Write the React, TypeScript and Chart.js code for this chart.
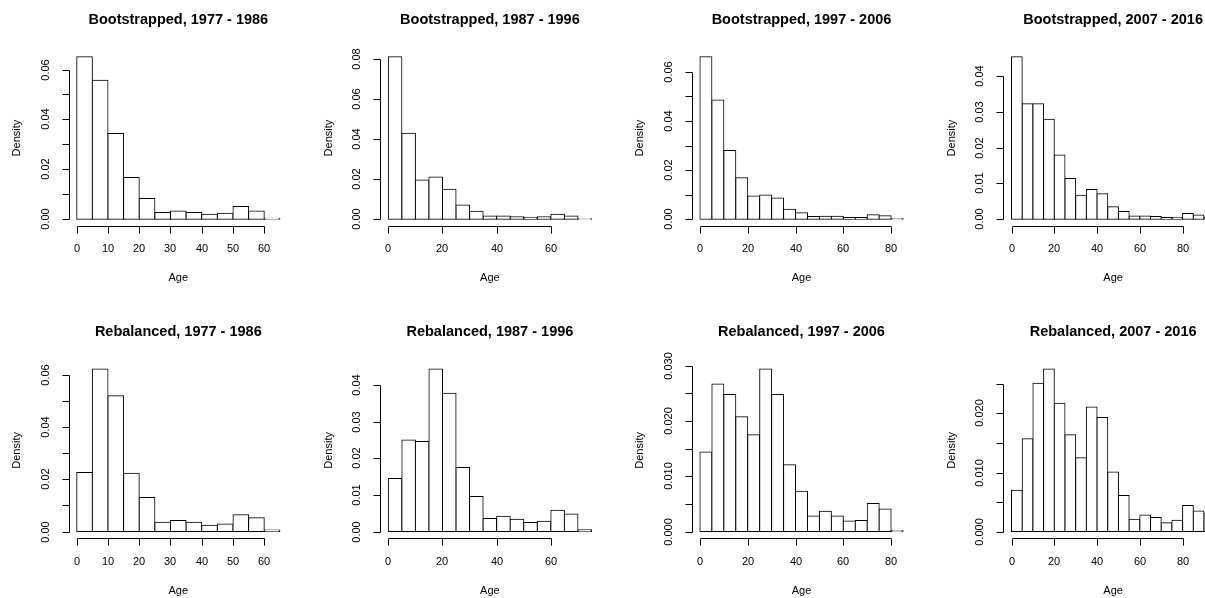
import React, { useEffect, useRef } from "react";
import { Chart, registerables } from "chart.js";

Chart.register(...registerables);

// ---- data (density per 5-year age bin) ----
const binStarts = [0, 5, 10, 15, 20, 25, 30, 35, 40, 45, 50, 55, 60, 65, 70, 75, 80, 85, 90];
const binWidth = 5;

const bootstrapped1977 = [0.0651, 0.0557, 0.0344, 0.0167, 0.0083, 0.0027, 0.0033, 0.0027, 0.002, 0.0024, 0.0051, 0.0033, 0.0004];
const bootstrapped1987 = [0.0813, 0.043, 0.0197, 0.0212, 0.015, 0.0072, 0.004, 0.0017, 0.0017, 0.0013, 0.001, 0.0013, 0.0025, 0.0017, 0.0003];
const bootstrapped1997 = [0.0661, 0.0485, 0.028, 0.0169, 0.0095, 0.0099, 0.0087, 0.0041, 0.0027, 0.0011, 0.0012, 0.0012, 0.0007, 0.0007, 0.0018, 0.0014, 0.0003];
const bootstrapped2007 = [0.0453, 0.0322, 0.0322, 0.0279, 0.0179, 0.0114, 0.0067, 0.0083, 0.0071, 0.0035, 0.0022, 0.0009, 0.0009, 0.0008, 0.0005, 0.0006, 0.0016, 0.0012, 0.0005];
const rebalanced1977 = [0.0226, 0.0621, 0.0519, 0.0223, 0.013, 0.0036, 0.0042, 0.0036, 0.0024, 0.0029, 0.0064, 0.0053, 0.0006];
const rebalanced1987 = [0.0145, 0.025, 0.0246, 0.0444, 0.0378, 0.0175, 0.0096, 0.0036, 0.0042, 0.0034, 0.0025, 0.0028, 0.0058, 0.0048, 0.0005];
const rebalanced1997 = [0.0144, 0.0267, 0.0248, 0.0208, 0.0175, 0.0294, 0.0248, 0.0121, 0.0073, 0.0028, 0.0037, 0.0028, 0.0019, 0.002, 0.0051, 0.0041, 0.0002];
const rebalanced2007 = [0.007, 0.0157, 0.0251, 0.0275, 0.0217, 0.0164, 0.0125, 0.0211, 0.0193, 0.0101, 0.0061, 0.0021, 0.0028, 0.0024, 0.0015, 0.0019, 0.0044, 0.0035, 0.003];

// ---- tick values and labels ----
const xTicksBy10 = [0, 10, 20, 30, 40, 50, 60];
const xTicksTo60 = [0, 20, 40, 60];
const xTicksTo80 = [0, 20, 40, 60, 80];

const yTicks06 = [0, 0.01, 0.02, 0.03, 0.04, 0.05, 0.06];
const yLabels06 = ["0.00", "", "0.02", "", "0.04", "", "0.06"];
const yTicks08 = [0, 0.02, 0.04, 0.06, 0.08];
const yLabels08 = ["0.00", "0.02", "0.04", "0.06", "0.08"];
const yTicks04 = [0, 0.01, 0.02, 0.03, 0.04];
const yLabels04 = ["0.00", "0.01", "0.02", "0.03", "0.04"];
const yTicks030 = [0, 0.005, 0.01, 0.015, 0.02, 0.025, 0.03];
const yLabels030 = ["0.000", "", "0.010", "", "0.020", "", "0.030"];
const yTicks025 = [0, 0.005, 0.01, 0.015, 0.02, 0.025];
const yLabels025 = ["0.000", "", "0.010", "", "0.020", ""];

const titles = [
  "Bootstrapped, 1977 - 1986",
  "Bootstrapped, 1987 - 1996",
  "Bootstrapped, 1997 - 2006",
  "Bootstrapped, 2007 - 2016",
  "Rebalanced, 1977 - 1986",
  "Rebalanced, 1987 - 1996",
  "Rebalanced, 1997 - 2006",
  "Rebalanced, 2007 - 2016",
];

type Panel = {
  title: string;
  values: number[];
  xTicks: number[];
  yTicks: number[];
  yLabels: string[];
};

const panels: Panel[] = [
  { title: titles[0], values: bootstrapped1977, xTicks: xTicksBy10, yTicks: yTicks06, yLabels: yLabels06 },
  { title: titles[1], values: bootstrapped1987, xTicks: xTicksTo60, yTicks: yTicks08, yLabels: yLabels08 },
  { title: titles[2], values: bootstrapped1997, xTicks: xTicksTo80, yTicks: yTicks06, yLabels: yLabels06 },
  { title: titles[3], values: bootstrapped2007, xTicks: xTicksTo80, yTicks: yTicks04, yLabels: yLabels04 },
  { title: titles[4], values: rebalanced1977, xTicks: xTicksBy10, yTicks: yTicks06, yLabels: yLabels06 },
  { title: titles[5], values: rebalanced1987, xTicks: xTicksTo60, yTicks: yTicks04, yLabels: yLabels04 },
  { title: titles[6], values: rebalanced1997, xTicks: xTicksTo80, yTicks: yTicks030, yLabels: yLabels030 },
  { title: titles[7], values: rebalanced2007, xTicks: xTicksTo80, yTicks: yTicks025, yLabels: yLabels025 },
];

// ---- layout (R-style mfrow cells) ----
const CELL_W = 311.6;
const CELL_H = 312.3;
const CANVAS_W = 313;
const CANVAS_H = 313;
const PLOT_LEFT = 68.6;
const PLOT_TOP = 50.3;
const PLOT_W = 219.4;
const PLOT_H = 175.5;

const FONT = '"Liberation Sans", Arial, Helvetica, sans-serif';

function makeRPlugin(p: Panel) {
  return {
    id: "rStyle",
    afterDraw(chart: any) {
      const { ctx, chartArea: a, scales } = chart;
      const xs = scales.x;
      const ys = scales.y;
      ctx.save();
      ctx.strokeStyle = "#000";
      ctx.fillStyle = "#000";
      ctx.lineWidth = 1;

      // x axis
      const yLine = Math.round(a.bottom) + 0.5;
      const xp = p.xTicks.map((t) => Math.round(xs.getPixelForValue(t)) + 0.5);
      ctx.beginPath();
      ctx.moveTo(xp[0], yLine);
      ctx.lineTo(xp[xp.length - 1], yLine);
      xp.forEach((px) => {
        ctx.moveTo(px, yLine);
        ctx.lineTo(px, yLine + 7);
      });
      ctx.stroke();
      ctx.font = "11px " + FONT;
      ctx.textAlign = "center";
      ctx.textBaseline = "middle";
      p.xTicks.forEach((t, i) => {
        ctx.fillText(String(t), xp[i] - 0.5, a.bottom + 23.5);
      });

      // y axis
      const xLine = Math.round(a.left) + 0.5;
      const yp = p.yTicks.map((t) => Math.round(ys.getPixelForValue(t)) + 0.5);
      ctx.beginPath();
      ctx.moveTo(xLine, yp[0]);
      ctx.lineTo(xLine, yp[yp.length - 1]);
      yp.forEach((py) => {
        ctx.moveTo(xLine, py);
        ctx.lineTo(xLine - 7, py);
      });
      ctx.stroke();
      p.yLabels.forEach((lab, i) => {
        if (!lab) return;
        ctx.save();
        ctx.translate(a.left - 23.1, yp[i] - 0.5);
        ctx.rotate(-Math.PI / 2);
        ctx.fillText(lab, 0, 0);
        ctx.restore();
      });

      // axis titles
      ctx.fillText("Age", (a.left + a.right) / 2, a.bottom + 52.5);
      ctx.save();
      ctx.translate(a.left - 51.6, (a.top + a.bottom) / 2);
      ctx.rotate(-Math.PI / 2);
      ctx.fillText("Density", 0, 0);
      ctx.restore();

      // main title
      ctx.font = "bold 14.5px " + FONT;
      ctx.fillText(p.title, (a.left + a.right) / 2, a.top - 30.3);
      ctx.restore();
    },
  };
}

function HistPanel({ panel, index }: { panel: Panel; index: number }) {
  const ref = useRef<HTMLCanvasElement | null>(null);
  const col = index % 4;
  const row = Math.floor(index / 4);
  const cellX = col * CELL_W;
  const cellY = row * CELL_H;
  const left = Math.floor(cellX);
  const top = Math.floor(cellY);
  const dx = cellX - left;
  const dy = cellY - top;

  useEffect(() => {
    if (!ref.current) return;
    const n = panel.values.length;
    const xMax = binStarts[n - 1] + binWidth;
    const yMax = Math.max(...panel.values);
    const data = panel.values.map((v, i) => ({ x: binStarts[i] + binWidth / 2, y: v }));
    const padLeft = PLOT_LEFT + dx;
    const padTop = PLOT_TOP + dy;
    const chart = new Chart(ref.current, {
      type: "bar",
      data: {
        datasets: [
          {
            data,
            backgroundColor: "#ffffff",
            borderColor: "#000000",
            borderWidth: 1,
            borderSkipped: false,
            inflateAmount: 0.5,
            barPercentage: 1,
            categoryPercentage: 1,
          } as any,
        ],
      },
      options: {
        animation: false,
        responsive: false,
        maintainAspectRatio: false,
        events: [],
        layout: {
          padding: {
            left: padLeft,
            top: padTop,
            right: CANVAS_W - padLeft - PLOT_W,
            bottom: CANVAS_H - padTop - PLOT_H,
          },
        },
        plugins: {
          legend: { display: false },
          tooltip: { enabled: false },
          title: { display: false },
        },
        scales: {
          x: { type: "linear", display: false, min: -0.04 * xMax, max: 1.04 * xMax, offset: false },
          y: { type: "linear", display: false, min: -0.04 * yMax, max: 1.04 * yMax },
        },
      },
      plugins: [makeRPlugin(panel)],
    });
    return () => chart.destroy();
  }, [panel, dx, dy]);

  return (
    <canvas
      ref={ref}
      width={CANVAS_W}
      height={CANVAS_H}
      style={{ position: "absolute", left, top, width: CANVAS_W, height: CANVAS_H }}
    />
  );
}

export default function App() {
  return (
    <div
      style={{
        position: "fixed",
        left: 0,
        top: 0,
        width: 1205,
        height: 598,
        overflow: "hidden",
        background: "#ffffff",
      }}
    >
      {panels.map((p, i) => (
        <HistPanel key={i} panel={p} index={i} />
      ))}
    </div>
  );
}
